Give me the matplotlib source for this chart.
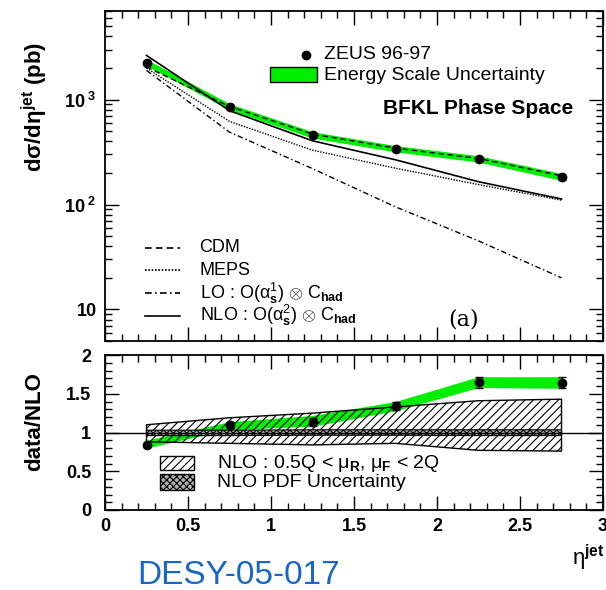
import numpy as np
import matplotlib
matplotlib.use('Agg')
from matplotlib import pyplot as plt
from matplotlib.lines import Line2D
from matplotlib.patches import Rectangle
from matplotlib.ticker import MultipleLocator, FixedLocator, LogLocator, NullFormatter, FixedFormatter

plt.rcParams['font.family'] = ['Liberation Sans', 'DejaVu Sans']
plt.rcParams['mathtext.fontset'] = 'custom'
plt.rcParams['mathtext.rm'] = 'Liberation Sans'
plt.rcParams['mathtext.it'] = 'Liberation Sans:italic'
plt.rcParams['mathtext.bf'] = 'Liberation Sans:bold'
plt.rcParams['hatch.linewidth'] = 0.8

#-------------------------- data --------------------------
eta = [0.25, 0.75, 1.25, 1.75, 2.25, 2.75]

# top panel : d sigma / d eta (pb)
zeus = [2260, 857, 462, 340, 272, 183]
zeus_err = [90, 35, 20, 15, 14, 10]
escale_lo = [2100, 800, 430, 318, 254, 170]
escale_hi = [2420, 915, 495, 365, 292, 198]
cdm = [2050, 860, 470, 345, 275, 188]
meps = [2000, 620, 330, 222, 155, 110]
lo = [1900, 490, 220, 95, 45, 20]
nlo = [2640, 785, 405, 267, 165, 113]

# bottom panel : data / NLO
ratio = [0.84, 1.10, 1.14, 1.34, 1.65, 1.64]
ratio_err = [0.03, 0.04, 0.05, 0.05, 0.07, 0.07]
ratio_es_lo = [0.80, 1.04, 1.08, 1.28, 1.58, 1.57]
ratio_es_hi = [0.90, 1.14, 1.22, 1.40, 1.72, 1.72]
scale_lo = [0.88, 0.86, 0.84, 0.86, 0.77, 0.76]
scale_hi = [1.10, 1.19, 1.25, 1.33, 1.41, 1.43]
pdf_lo = [0.96, 0.96, 0.965, 0.965, 0.96, 0.96]
pdf_hi = [1.03, 1.03, 1.035, 1.035, 1.035, 1.035]

green = '#00ee00'

fig = plt.figure(figsize=(6.06, 5.90), dpi=100)
ax1 = fig.add_axes([105/606, 1-341/590, 498/606, 330/590])
ax2 = fig.add_axes([105/606, 1-510/590, 498/606, 155/590])

for ax in (ax1, ax2):
    ax.set_xlim(0, 3)
    ax.xaxis.set_major_locator(MultipleLocator(0.5))
    ax.xaxis.set_minor_locator(MultipleLocator(0.1))
    ax.tick_params(which='both', direction='in', top=True, right=True, width=1)
    ax.tick_params(which='major', length=10)
    ax.tick_params(which='minor', length=5)
    for s in ax.spines.values():
        s.set_linewidth(1.3)

# ---------------- top panel
ax1.set_yscale('log')
ax1.set_ylim(5, 7000)
ax1.yaxis.set_major_locator(FixedLocator([10, 100, 1000]))
ax1.yaxis.set_major_formatter(FixedFormatter(['10', r'$\mathbf{10^{\ 2}}$', r'$\mathbf{10^{\ 3}}$']))
ax1.yaxis.set_minor_locator(LogLocator(base=10, subs=np.arange(2, 10)))
ax1.yaxis.set_minor_formatter(NullFormatter())
ax1.tick_params(axis='x', labelbottom=False)
ax1.tick_params(axis='y', labelsize=13, pad=6)
for t in ax1.get_yticklabels():
    t.set_fontweight('bold')

ax1.fill_between(eta, escale_lo, escale_hi, color=green, lw=0, zorder=1)
ax1.plot(eta, cdm, color='k', lw=1, ls=(0, (4, 2.5)), zorder=3)
ax1.plot(eta, meps, color='k', lw=1, ls=(0, (1, 1)), zorder=3)
ax1.plot(eta, lo, color='k', lw=1, ls=(0, (4, 2, 1, 2)), zorder=3)
ax1.plot(eta, nlo, color='k', lw=1.2, ls='-', zorder=3)
ax1.errorbar(eta, zeus, yerr=zeus_err, fmt='o', color='k', ms=6, capsize=3, lw=1, zorder=4)

# legend, upper right
ax1.plot([0.404], [0.867], 'o', color='k', ms=6, transform=ax1.transAxes)
ax1.text(0.44, 0.867, 'ZEUS 96-97', transform=ax1.transAxes, fontsize=14, va='center')
ax1.add_patch(Rectangle((0.332, 0.785), 0.094, 0.045, transform=ax1.transAxes,
                        facecolor=green, edgecolor='k', lw=1))
ax1.text(0.44, 0.806, 'Energy Scale Uncertainty', transform=ax1.transAxes, fontsize=14, va='center')
ax1.text(0.75, 0.706, 'BFKL Phase Space', transform=ax1.transAxes, fontsize=15,
         fontweight='bold', ha='center', va='center')

# legend, lower left
styles = [(0, (4, 2.5)), (0, (1, 1)), (0, (4, 2, 1, 2)), '-']
labels = ['CDM', 'MEPS',
          r'LO : O($\mathrm{\alpha}_{\mathbf{s}}^{1}$) $\otimes$ C$_{\mathbf{had}}$',
          r'NLO : O($\mathrm{\alpha}_{\mathbf{s}}^{2}$) $\otimes$ C$_{\mathbf{had}}$']
ypos = [0.282, 0.215, 0.145, 0.076]
for st, lab, yy in zip(styles, labels, ypos):
    ax1.add_line(Line2D([0.08, 0.15], [yy, yy], color='k', lw=1.2, ls=st, transform=ax1.transAxes))
    ax1.text(0.19, yy, lab, transform=ax1.transAxes, fontsize=13, va='center')
ax1.text(0.72, 0.064, '(a)', transform=ax1.transAxes, fontsize=16, family='DejaVu Serif',
         ha='center', va='center')

# ---------------- bottom panel
ax2.set_ylim(0, 2)
ax2.yaxis.set_major_locator(MultipleLocator(0.5))
ax2.yaxis.set_minor_locator(MultipleLocator(0.1))
ax2.set_xticks([0, 0.5, 1, 1.5, 2, 2.5, 3])
ax2.set_xticklabels(['0', '0.5', '1', '1.5', '2', '2.5', '3'])
ax2.set_yticks([0, 0.5, 1, 1.5, 2])
ax2.set_yticklabels(['0', '0.5', '1', '1.5', '2'])
ax2.tick_params(labelsize=13)
ax2.tick_params(axis='y', pad=10)
ax2.tick_params(axis='x', pad=6)
for t in ax2.get_xticklabels() + ax2.get_yticklabels():
    t.set_fontweight('bold')

ax2.fill_between(eta, ratio_es_lo, ratio_es_hi, color=green, lw=0, zorder=1)
ax2.fill_between(eta, scale_lo, scale_hi, facecolor='none', edgecolor='k', hatch='////', lw=1, zorder=2)
ax2.fill_between(eta, pdf_lo, pdf_hi, facecolor='#b0b0b0', edgecolor='k', hatch='xxxxx', lw=0.8, zorder=3)
ax2.axhline(1, color='k', lw=1, zorder=4)
ax2.errorbar(eta, ratio, yerr=ratio_err, fmt='o', color='k', ms=6, capsize=3, lw=1, zorder=5)

ax2.add_patch(Rectangle((0.11, 0.258), 0.068, 0.09, transform=ax2.transAxes,
                        facecolor='white', edgecolor='k', hatch='////', lw=1))
ax2.text(0.224, 0.303, r'NLO : 0.5Q < μ$_{\mathbf{R}}$, μ$_{\mathbf{F}}$ < 2Q', transform=ax2.transAxes,
         fontsize=14, va='center')
ax2.add_patch(Rectangle((0.11, 0.129), 0.068, 0.103, transform=ax2.transAxes,
                        facecolor='#b0b0b0', edgecolor='k', hatch='xxxxx', lw=1))
ax2.text(0.224, 0.18, 'NLO PDF Uncertainty', transform=ax2.transAxes, fontsize=14, va='center')

# axis titles
fig.text(35/606, 1-107/590, r'dσ/dη$^{\mathbf{jet}}$ (pb)', rotation=90,
         fontsize=16, fontweight='bold', ha='center', va='center')
fig.text(35/606, 1-422/590, 'data/NLO', rotation=90, fontsize=16, fontweight='bold',
         ha='center', va='center')
fig.text(572/606, 1-558/590, r'η$^{\mathbf{jet}}$', fontsize=16, ha='left', va='center')
fig.text(137/606, 1-575/590, 'DESY-05-017', fontsize=24, color='#1766c8', ha='left', va='center')

fig.savefig('out.png', dpi=100)
